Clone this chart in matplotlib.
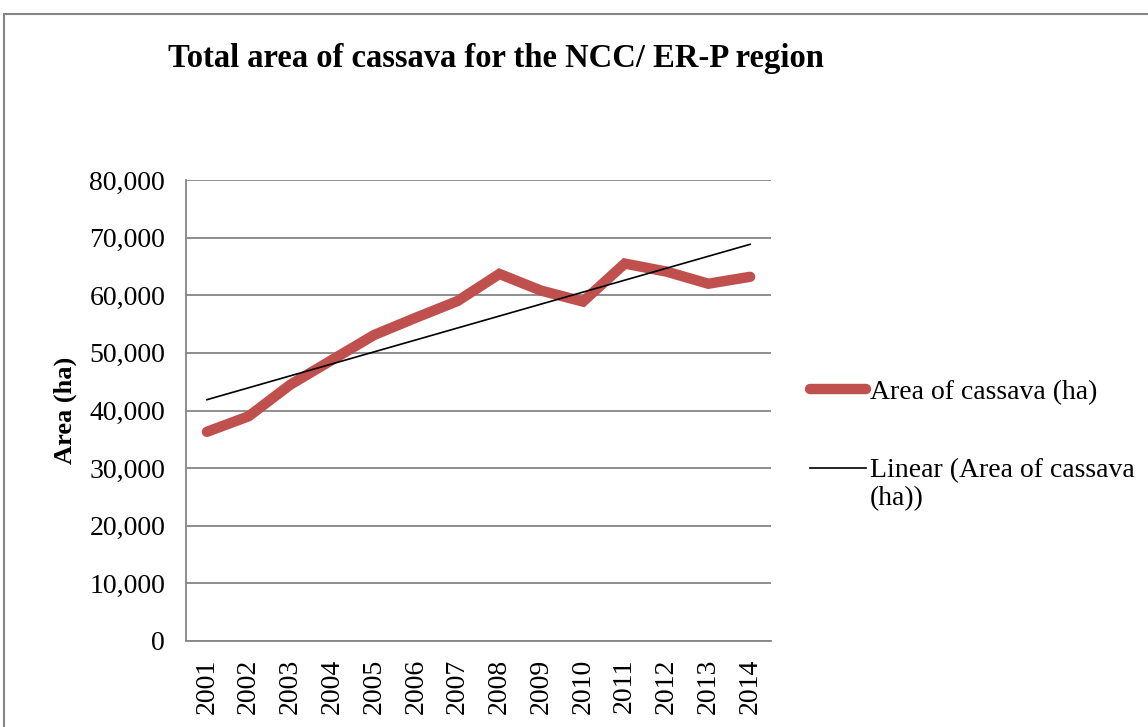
import matplotlib.pyplot as plt
import numpy as np
from matplotlib.patches import Rectangle

years = ['2001', '2002', '2003', '2004', '2005', '2006', '2007',
         '2008', '2009', '2010', '2011', '2012', '2013', '2014']
area = [36300, 39000, 44500, 48800, 53100, 56100, 59000,
        63700, 60800, 58900, 65500, 64100, 62000, 63200]

plt.rcParams['font.family'] = ['Liberation Serif', 'DejaVu Serif']

fig = plt.figure(figsize=(11.48, 7.27), dpi=100)
# outer chart border (only top/left visible in the crop)
fig.patches.append(Rectangle((4 / 1148, -0.1), 1.2, 1 - 14 / 727 + 0.1,
                             transform=fig.transFigure, fill=False,
                             edgecolor='#868686', linewidth=1.5))

ax = fig.add_axes([186 / 1148, 1 - 641 / 727, 585 / 1148, 461 / 727])

x = np.arange(len(years))
ax.plot(x, area, color='#C0504D', linewidth=7.5, solid_capstyle='round',
        solid_joinstyle='miter', label='Area of cassava (ha)', zorder=3)

coef = np.polyfit(x, area, 1)
trend = np.poly1d(coef)
ax.plot(x, trend(x), color='black', linewidth=1.2,
        label='Linear (Area of cassava', zorder=4)

ax.set_xlim(-0.5, len(years) - 0.5)
ax.set_ylim(0, 80000)
ax.set_yticks(range(0, 80001, 10000))
ax.set_yticklabels(['0'] + ['{:,}'.format(v) for v in range(10000, 80001, 10000)],
                   fontsize=20)
ax.set_xticks(x)
ax.set_xticklabels(years, rotation=90, fontsize=20)
ax.tick_params(length=0, pad=15)
ax.tick_params(axis='x', pad=13)
ax.yaxis.grid(True, color='#868686', linewidth=1.3)
ax.set_axisbelow(True)
for s in ['top', 'right']:
    ax.spines[s].set_visible(False)
for s in ['left', 'bottom']:
    ax.spines[s].set_color('#868686')
    ax.spines[s].set_linewidth(1.3)

ax.set_ylabel('Area (ha)', fontsize=19, fontweight='bold', labelpad=9)

fig.text(168 / 1148, 1 - 59 / 727, 'Total area of cassava for the NCC/ ER-P region',
         fontsize=23.5, fontweight='bold', va='center', ha='left')

ax.legend(loc='upper left', bbox_to_anchor=(1.067, 0.567), frameon=False,
          fontsize=20, handlelength=2.0, handletextpad=0.15, labelspacing=1.9,
          borderpad=0, borderaxespad=0)
# second line of the wrapped trendline label
fig.text(870 / 1148, 1 - 499 / 727, '(ha))', fontsize=20, va='center', ha='left')

fig.savefig('out.png', dpi=100)
